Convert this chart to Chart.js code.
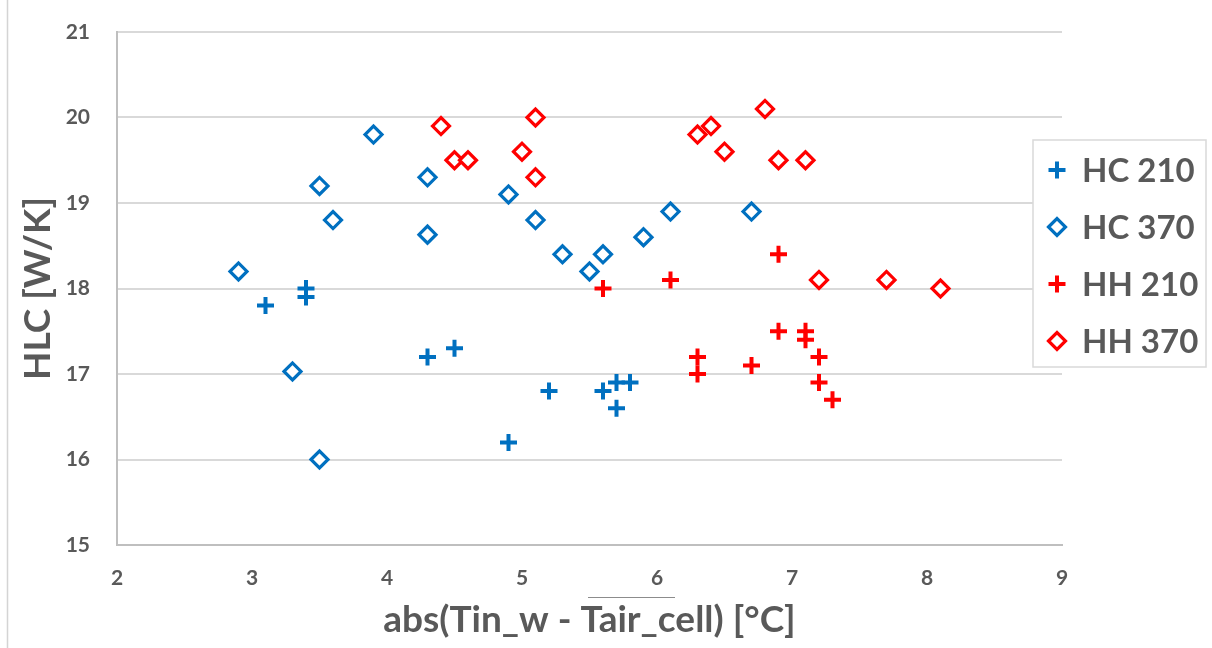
<!DOCTYPE html>
<html lang="en">
<head>
<meta charset="UTF-8">
<title>HLC vs abs(Tin_w - Tair_cell)</title>
<script src="https://cdn.jsdelivr.net/npm/chart.js"></script>
<style>
    body { margin: 0; background: #ffffff; }
    #wrap { width: 1212px; height: 648px; }
</style>
</head>
<body>
<div id="wrap"><canvas id="hlc" width="1212" height="648"></canvas></div>
<script>
// series data
const seriesNames = ['HC 210', 'HC 370', 'HH 210', 'HH 370'];

const hc210X = [3.1, 3.4, 3.4, 4.3, 4.5, 4.9, 5.2, 5.6, 5.7, 5.8, 5.7];
const hc210Y = [17.8, 18.0, 17.9, 17.2, 17.3, 16.2, 16.8, 16.8, 16.9, 16.9, 16.6];

const hc370X = [2.9, 3.3, 3.5, 3.5, 3.6, 3.9, 4.3, 4.3, 4.9, 5.1, 5.3, 5.5, 5.6, 5.9, 6.1, 6.7];
const hc370Y = [18.2, 17.03, 16.0, 19.2, 18.8, 19.8, 19.3, 18.63, 19.1, 18.8, 18.4, 18.2, 18.4, 18.6, 18.9, 18.9];

const hh210X = [5.6, 6.1, 6.3, 6.3, 6.7, 6.9, 6.9, 7.1, 7.1, 7.2, 7.2, 7.3];
const hh210Y = [18.0, 18.1, 17.2, 17.0, 17.1, 18.4, 17.5, 17.5, 17.4, 17.2, 16.9, 16.7];

const hh370X = [4.4, 4.5, 4.6, 5.0, 5.1, 5.1, 6.3, 6.4, 6.5, 6.8, 6.9, 7.1, 7.2, 7.7, 8.1];
const hh370Y = [19.9, 19.5, 19.5, 19.6, 20.0, 19.3, 19.8, 19.9, 19.6, 20.1, 19.5, 19.5, 18.1, 18.1, 18.0];

const xTicks = [2, 3, 4, 5, 6, 7, 8, 9];
const yTicks = [15, 16, 17, 18, 19, 20, 21];

const xTitle = 'abs(Tin_w - Tair_cell) [°C]';
const yTitle = 'HLC [W/K]';

const BLUE = '#0070C0';
const RED = '#FF0000';
const TEXT = '#595959';
const FONT = 'Lato, "Open Sans", sans-serif';

function toPoints(xs, ys) {
    return xs.map((x, i) => ({ x: x, y: ys[i] }));
}

function plusSet(label, xs, ys, color) {
    return {
        label: label,
        data: toPoints(xs, ys),
        pointStyle: 'cross',
        pointRadius: 8.5,
        pointBorderWidth: 4,
        borderColor: color,
        backgroundColor: color,
        showLine: false
    };
}

function diamondSet(label, xs, ys, color) {
    return {
        label: label,
        data: toPoints(xs, ys),
        pointStyle: 'rectRot',
        pointRadius: 8.5,
        pointBorderWidth: 3.2,
        borderColor: color,
        backgroundColor: '#ffffff',
        showLine: false
    };
}

// legend drawn inside the plot, on the right, like the original
// (plus the two stray grey strokes that are in the source image)
const boxLegend = {
    id: 'boxLegend',
    afterDraw(chart) {
        const ctx = chart.ctx;
        const left = 1033, top = 140, w = 173, h = 227;
        ctx.save();

        ctx.strokeStyle = '#d4d4d4';
        ctx.lineWidth = 1.5;
        ctx.beginPath();
        ctx.moveTo(7.5, 0);
        ctx.lineTo(7.5, 648);
        ctx.stroke();
        ctx.strokeStyle = '#8c8c8c';
        ctx.lineWidth = 1;
        ctx.beginPath();
        ctx.moveTo(588, 597.5);
        ctx.lineTo(675, 597.5);
        ctx.stroke();

        ctx.fillStyle = '#ffffff';
        ctx.fillRect(left, top, w, h);
        ctx.strokeStyle = '#d9d9d9';
        ctx.lineWidth = 1.5;
        ctx.strokeRect(left, top, w, h);

        chart.data.datasets.forEach((ds, i) => {
            const cy = top + 30 + i * 57;
            ctx.strokeStyle = ds.borderColor;
            ctx.fillStyle = ds.backgroundColor;
            ctx.lineWidth = ds.pointBorderWidth;
            Chart.helpers.drawPoint(ctx, {
                pointStyle: ds.pointStyle,
                radius: ds.pointRadius,
                borderWidth: ds.pointBorderWidth,
                rotation: 0
            }, 1057, cy);
            ctx.fillStyle = TEXT;
            ctx.font = 'bold 33px ' + FONT;
            ctx.textAlign = 'left';
            ctx.textBaseline = 'middle';
            ctx.fillText(ds.label, 1082, cy + 1);
        });
        ctx.restore();
    }
};

new Chart(document.getElementById('hlc'), {
    type: 'scatter',
    data: {
        datasets: [
            plusSet(seriesNames[0], hc210X, hc210Y, BLUE),
            diamondSet(seriesNames[1], hc370X, hc370Y, BLUE),
            plusSet(seriesNames[2], hh210X, hh210Y, RED),
            diamondSet(seriesNames[3], hh370X, hh370Y, RED)
        ]
    },
    options: {
        responsive: false,
        animation: false,
        events: [],
        layout: { padding: { top: 32, right: 150, left: 0, bottom: 0 } },
        plugins: {
            legend: { display: false },
            tooltip: { enabled: false }
        },
        scales: {
            x: {
                type: 'linear',
                min: 2,
                max: 9,
                afterBuildTicks: axis => { axis.ticks = xTicks.map(v => ({ value: v })); },
                afterFit: axis => { axis.height = 103; },
                grid: { display: false, drawTicks: false },
                border: { display: true, color: '#bfbfbf', width: 2 },
                ticks: {
                    padding: 21,
                    color: TEXT,
                    font: { family: FONT, size: 21, weight: 'bold' }
                },
                title: {
                    display: true,
                    text: xTitle,
                    color: TEXT,
                    padding: { top: 0, bottom: 6 },
                    font: { family: FONT, size: 37, weight: 'bold' }
                }
            },
            y: {
                type: 'linear',
                min: 15,
                max: 21,
                afterBuildTicks: axis => { axis.ticks = yTicks.map(v => ({ value: v })); },
                afterFit: axis => { axis.width = 117; },
                // invisible tick marks keep the labels away from the axis
                // without inflating the top padding
                grid: { color: '#d9d9d9', lineWidth: 2, drawTicks: true, tickLength: 27, tickColor: 'rgba(0,0,0,0)' },
                border: { display: true, color: '#bfbfbf', width: 2 },
                ticks: {
                    padding: 0,
                    color: TEXT,
                    font: { family: FONT, size: 21, weight: 'bold' }
                },
                title: {
                    display: true,
                    text: yTitle,
                    color: TEXT,
                    padding: { top: 16, bottom: 0 },
                    font: { family: FONT, size: 37, weight: 'bold' }
                }
            }
        }
    },
    plugins: [boxLegend]
});
</script>
</body>
</html>
